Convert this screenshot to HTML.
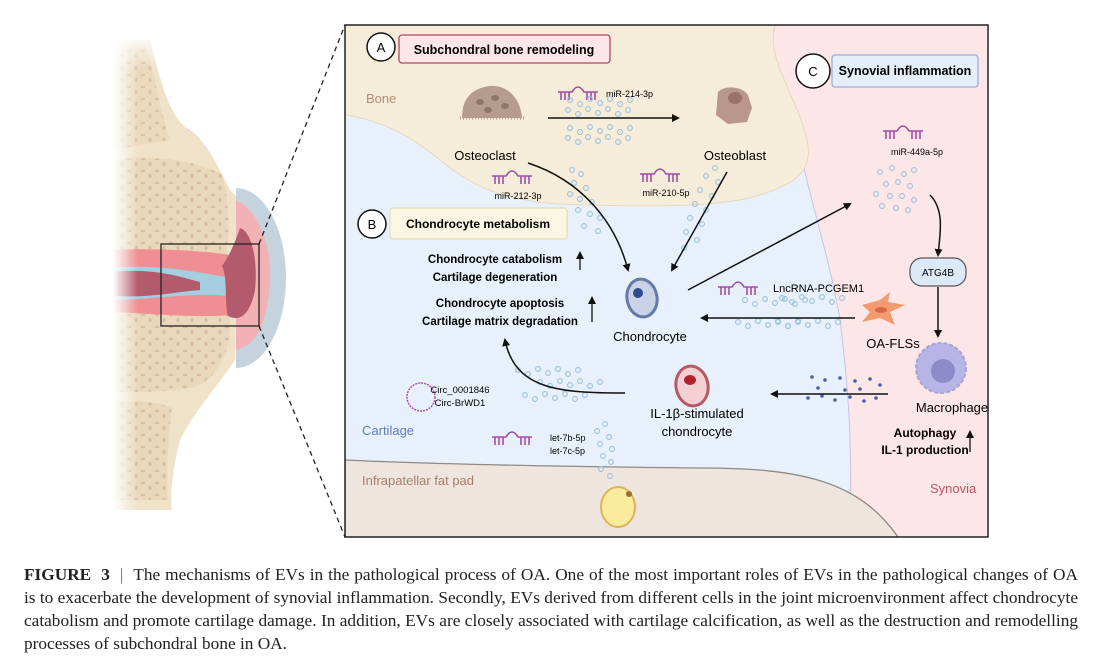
<!DOCTYPE html>
<html><head><meta charset="utf-8"><style>
html,body{margin:0;padding:0;background:#fff;}
body{width:1097px;height:663px;overflow:hidden;position:relative;font-family:"Liberation Sans",sans-serif;}
svg{position:absolute;left:0;top:0;}
.cap{position:absolute;left:24px;width:1054px;font-family:"Liberation Serif",serif;font-size:17.3px;color:#222;line-height:20px;white-space:nowrap;}
.j{text-align:justify;text-align-last:justify;}
</style></head><body>
<svg width="1097" height="570" viewBox="0 0 1097 570" xmlns="http://www.w3.org/2000/svg">
<defs>
<linearGradient id="fade" x1="0" x2="1" y1="0" y2="0">
<stop offset="0" stop-color="#fff" stop-opacity="1"/><stop offset="1" stop-color="#fff" stop-opacity="0"/></linearGradient>
<linearGradient id="fadev" x1="0" x2="0" y1="0" y2="1">
<stop offset="0" stop-color="#fff" stop-opacity="1"/><stop offset="1" stop-color="#fff" stop-opacity="0"/></linearGradient>
<pattern id="spong" width="14" height="12" patternUnits="userSpaceOnUse">
<rect width="14" height="12" fill="#ead8bd"/>
<ellipse cx="3" cy="3" rx="2.2" ry="1.4" fill="#d9bf9f"/><ellipse cx="10" cy="8" rx="1.6" ry="2.2" fill="#d9bf9f"/>
</pattern>
<marker id="ah" markerWidth="8" markerHeight="8" refX="6" refY="4" orient="auto" markerUnits="userSpaceOnUse"><path d="M0,0 L8,4 L0,8 Z" fill="#111"/></marker>
<g id="mir" fill="none" stroke="#a24da8" stroke-width="1.6">
<path d="M0,4 H14 Q20,-6 26,4 H40"/>
<path d="M3,4 v8 M7,4 v8 M11,4 v8 M29,4 v8 M33,4 v8 M37,4 v8"/>
</g>
<g id="row" fill="none" stroke="#9cc0dc" stroke-width="1.1">
<circle cx="0" cy="0" r="2.4"/><circle cx="10" cy="4" r="2.4"/><circle cx="20" cy="-1" r="2.4"/><circle cx="30" cy="3" r="2.4"/><circle cx="40" cy="-1" r="2.4"/><circle cx="50" cy="4" r="2.4"/><circle cx="60" cy="0" r="2.4"/>
</g>
</defs>

<!-- knee -->
<path d="M113,40 H150 C160,80 170,120 190,130 C205,140 215,160 230,190 L240,200 L235,360 C215,390 195,410 180,440 C172,470 170,500 172,510 H113 Z" fill="#efe2c8"/>
<path d="M113,45 H145 C155,75 160,110 170,140 L113,150 Z" fill="url(#spong)" opacity=".9"/>
<path d="M113,160 C150,155 200,160 222,175 C230,200 230,240 225,262 L113,262 Z" fill="url(#spong)"/>
<path d="M113,312 L230,312 C232,340 225,370 200,385 C180,392 150,392 113,392 Z" fill="url(#spong)"/>
<path d="M113,402 C140,400 160,402 172,408 C168,440 166,480 168,500 L113,500 Z" fill="url(#spong)"/>
<path d="M236,188 A50,90 0 0 1 236,368 Z" fill="#c5d3de"/>
<path d="M236,200 C260,210 272,250 270,280 C268,320 258,345 236,350 Z" fill="#f1b1b5"/>
<path d="M113,250 C150,248 200,250 230,255 L232,315 C200,318 150,314 113,312 Z" fill="#ef8f94"/>
<path d="M113,268 C150,264 190,270 230,278 L230,296 C190,292 150,300 113,300 Z" fill="#a3cfe0"/>
<path d="M113,272 C150,268 175,275 200,282 L200,290 C175,292 150,298 113,296 Z" fill="#b35a6d"/>
<path d="M240,228 C252,232 258,260 255,290 C250,315 240,322 228,316 C224,300 228,278 222,266 C230,255 236,240 240,228 Z" fill="#b35a6d"/>
<rect x="113" y="30" width="25" height="490" fill="url(#fade)"/>
<rect x="113" y="30" width="180" height="40" fill="url(#fadev)"/>
<rect x="161" y="244" width="98" height="82" fill="none" stroke="#222" stroke-width="1.3"/>
<line x1="259" y1="244" x2="345" y2="25" stroke="#222" stroke-width="1.3" stroke-dasharray="5,4"/>
<line x1="259" y1="326" x2="345" y2="537" stroke="#222" stroke-width="1.3" stroke-dasharray="5,4"/>

<!-- panel -->
<clipPath id="pc"><rect x="345" y="25" width="643" height="512"/></clipPath>
<g clip-path="url(#pc)">
<rect x="345" y="25" width="643" height="512" fill="#e8f1fb"/>
<path d="M775,25 C765,60 790,100 800,150 C810,200 830,260 840,320 C850,400 852,450 850,540 L990,540 L990,25 Z" fill="#fde6e7" stroke="#c9c3e0" stroke-width="1"/>
<path d="M345,25 H775 C765,60 800,100 808,145 C812,175 790,185 760,195 C720,208 640,207 560,204 C500,200 470,185 440,160 C410,135 380,120 345,115 Z" fill="#f5ecd9" stroke="#e6d8bf" stroke-width="1"/>
<path d="M345,460 C450,465 600,467 700,468 C800,468 860,480 900,540 L345,540 Z" fill="#efe5df" stroke="#8f8a86" stroke-width="1.3"/>
</g>
<rect x="345" y="25" width="643" height="512" fill="none" stroke="#222" stroke-width="1.5"/>

<!-- labels -->
<circle cx="381" cy="47" r="14" fill="#fff" stroke="#111" stroke-width="1.5"/><text x="381" y="52" font-size="13" text-anchor="middle">A</text>
<rect x="399" y="35" width="211" height="28" rx="3" fill="#fde6e7" stroke="#b14a5c" stroke-width="1.3"/>
<text x="504" y="54" font-size="12.5" font-weight="bold" text-anchor="middle">Subchondral bone remodeling</text>
<circle cx="813" cy="71" r="17" fill="#fff" stroke="#111" stroke-width="1.5"/><text x="813" y="76" font-size="13" text-anchor="middle">C</text>
<rect x="832" y="55" width="146" height="32" rx="3" fill="#e5effa" stroke="#9ab0d8" stroke-width="1.3"/>
<text x="905" y="75" font-size="12.5" font-weight="bold" text-anchor="middle">Synovial inflammation</text>
<circle cx="372" cy="224" r="14" fill="#fff" stroke="#111" stroke-width="1.5"/><text x="372" y="229" font-size="13" text-anchor="middle">B</text>
<rect x="390" y="208" width="177" height="31" rx="3" fill="#fbf6e3" stroke="#e4dcb8" stroke-width="1.3"/>
<text x="478" y="228" font-size="12" font-weight="bold" text-anchor="middle">Chondrocyte metabolism</text>

<text x="366" y="103" font-size="13" fill="#b08e72">Bone</text>
<text x="362" y="435" font-size="13" fill="#5b7fc0">Cartilage</text>
<text x="362" y="485" font-size="13" fill="#a87e6a">Infrapatellar fat pad</text>
<text x="930" y="493" font-size="13" fill="#c45268">Synovia</text>

<!-- cells -->
<path d="M462,118 C462,95 475,88 490,86 C505,85 520,95 522,118 Z" fill="#b59c8d"/>
<path d="M460,118 H524" stroke="#b59c8d" stroke-width="3" stroke-dasharray="1,2"/>
<ellipse cx="480" cy="102" rx="4" ry="3" fill="#8f756a"/><ellipse cx="495" cy="98" rx="4" ry="3" fill="#8f756a"/><ellipse cx="505" cy="106" rx="4" ry="3" fill="#8f756a"/><ellipse cx="488" cy="110" rx="4" ry="3" fill="#8f756a"/>
<text x="485" y="160" font-size="13" text-anchor="middle">Osteoclast</text>
<path d="M718,92 C725,85 742,86 748,95 L752,108 L747,122 L728,124 L716,115 Z" fill="#b9978a"/>
<ellipse cx="735" cy="98" rx="7" ry="6" fill="#9a7468"/>
<text x="735" y="160" font-size="13" text-anchor="middle">Osteoblast</text>

<ellipse cx="642" cy="298" rx="15" ry="19" transform="rotate(-10 642 298)" fill="#c9d2e6" stroke="#6779a8" stroke-width="3"/>
<ellipse cx="638" cy="293" rx="5" ry="5" fill="#2f4a8f"/>
<text x="650" y="341" font-size="13" text-anchor="middle">Chondrocyte</text>

<ellipse cx="692" cy="386" rx="16" ry="20" transform="rotate(-10 692 386)" fill="#f2d0d3" stroke="#b55a64" stroke-width="3"/>
<ellipse cx="690" cy="380" rx="6" ry="5" fill="#b0232e"/>
<text x="697" y="418" font-size="13" text-anchor="middle">IL-1β-stimulated</text>
<text x="697" y="436" font-size="13" text-anchor="middle">chondrocyte</text>

<path d="M862,305 L880,300 L890,292 L888,302 L905,305 L890,312 L895,325 L880,318 L862,322 L870,312 Z" fill="#f29b6e"/>
<ellipse cx="881" cy="310" rx="6" ry="3" fill="#d9694a"/>
<text x="893" y="348" font-size="13" text-anchor="middle">OA-FLSs</text>

<circle cx="941" cy="368" r="25" fill="#b6b5e6" stroke="#a4a3d8" stroke-width="2" stroke-dasharray="4,2"/>
<circle cx="943" cy="371" r="12" fill="#8d8bc8"/>
<text x="952" y="412" font-size="13" text-anchor="middle">Macrophage</text>
<text x="925" y="437" font-size="12" font-weight="bold" text-anchor="middle">Autophagy</text>
<text x="925" y="454" font-size="12" font-weight="bold" text-anchor="middle">IL-1 production</text>
<line x1="970" y1="452" x2="970" y2="432" stroke="#111" stroke-width="1.3" marker-end="url(#ah)"/>

<rect x="910" y="258" width="56" height="28" rx="12" fill="#dce9f7" stroke="#555" stroke-width="1.2"/>
<text x="938" y="276" font-size="10" text-anchor="middle">ATG4B</text>

<ellipse cx="618" cy="507" rx="17" ry="20" fill="#fbeb9c" stroke="#d9b65a" stroke-width="2"/>
<circle cx="629" cy="494" r="3" fill="#9a6e2f"/>

<circle cx="421" cy="397" r="14" fill="none" stroke="#b34fb8" stroke-width="1.5" stroke-dasharray="2,1"/>
<text x="460" y="393" font-size="9.5" text-anchor="middle">Circ_0001846</text>
<text x="460" y="406" font-size="9.5" text-anchor="middle">Circ-BrWD1</text>

<!-- outcome texts -->
<text x="495" y="263" font-size="11.5" font-weight="bold" text-anchor="middle">Chondrocyte catabolism</text>
<text x="495" y="281" font-size="11.5" font-weight="bold" text-anchor="middle">Cartilage degeneration</text>
<line x1="580" y1="270" x2="580" y2="253" stroke="#111" stroke-width="1.3" marker-end="url(#ah)"/>
<text x="500" y="307" font-size="11.5" font-weight="bold" text-anchor="middle">Chondrocyte apoptosis</text>
<text x="500" y="325" font-size="11.5" font-weight="bold" text-anchor="middle">Cartilage matrix degradation</text>
<line x1="592" y1="322" x2="592" y2="298" stroke="#111" stroke-width="1.3" marker-end="url(#ah)"/>

<!-- miRNAs -->
<use href="#mir" x="558" y="88"/><text x="606" y="97" font-size="9">miR-214-3p</text>
<use href="#mir" x="492" y="172"/><text x="518" y="199" font-size="9" text-anchor="middle">miR-212-3p</text>
<use href="#mir" x="640" y="170"/><text x="666" y="196" font-size="9" text-anchor="middle">miR-210-5p</text>
<use href="#mir" x="883" y="127"/><text x="917" y="155" font-size="9" text-anchor="middle">miR-449a-5p</text>
<use href="#mir" x="718" y="283"/><text x="773" y="292" font-size="11">LncRNA-PCGEM1</text>
<use href="#mir" x="492" y="433"/><text x="550" y="441" font-size="9">let-7b-5p</text><text x="550" y="454" font-size="9">let-7c-5p</text>

<!-- vesicles -->
<use href="#row" x="570" y="100"/><use href="#row" x="568" y="110"/>
<use href="#row" x="570" y="128"/><use href="#row" x="568" y="138"/>
<use href="#row" x="745" y="300" transform="translate(0,0)"/><use href="#row" x="782" y="298"/>
<use href="#row" x="738" y="322"/><use href="#row" x="778" y="322"/>
<use href="#row" x="518" y="370"/><use href="#row" x="540" y="382"/><use href="#row" x="525" y="395"/>
<g fill="none" stroke="#9cc0dc" stroke-width="1.1">
<circle cx="572" cy="170" r="2.4"/><circle cx="581" cy="174" r="2.4"/><circle cx="574" cy="183" r="2.4"/><circle cx="586" cy="188" r="2.4"/><circle cx="570" cy="194" r="2.4"/><circle cx="580" cy="199" r="2.4"/><circle cx="592" cy="202" r="2.4"/><circle cx="578" cy="210" r="2.4"/><circle cx="590" cy="214" r="2.4"/><circle cx="600" cy="218" r="2.4"/><circle cx="584" cy="226" r="2.4"/><circle cx="598" cy="231" r="2.4"/>
<circle cx="715" cy="168" r="2.4"/><circle cx="706" cy="176" r="2.4"/><circle cx="718" cy="182" r="2.4"/><circle cx="700" cy="190" r="2.4"/><circle cx="712" cy="196" r="2.4"/><circle cx="695" cy="204" r="2.4"/><circle cx="706" cy="210" r="2.4"/><circle cx="690" cy="218" r="2.4"/><circle cx="702" cy="224" r="2.4"/><circle cx="686" cy="232" r="2.4"/><circle cx="697" cy="240" r="2.4"/><circle cx="684" cy="248" r="2.4"/>
<circle cx="880" cy="172" r="2.4"/><circle cx="892" cy="168" r="2.4"/><circle cx="904" cy="174" r="2.4"/><circle cx="914" cy="170" r="2.4"/><circle cx="886" cy="184" r="2.4"/><circle cx="898" cy="182" r="2.4"/><circle cx="910" cy="186" r="2.4"/><circle cx="876" cy="194" r="2.4"/><circle cx="890" cy="196" r="2.4"/><circle cx="902" cy="196" r="2.4"/><circle cx="914" cy="200" r="2.4"/><circle cx="882" cy="206" r="2.4"/><circle cx="896" cy="208" r="2.4"/><circle cx="908" cy="210" r="2.4"/>
<circle cx="605" cy="424" r="2.4"/><circle cx="597" cy="431" r="2.4"/><circle cx="609" cy="437" r="2.4"/><circle cx="600" cy="444" r="2.4"/><circle cx="612" cy="449" r="2.4"/><circle cx="603" cy="456" r="2.4"/><circle cx="611" cy="462" r="2.4"/><circle cx="601" cy="469" r="2.4"/><circle cx="610" cy="476" r="2.4"/>
</g>
<g fill="#4d5fa3">
<circle cx="812" cy="377" r="1.8"/><circle cx="825" cy="380" r="1.8"/><circle cx="840" cy="378" r="1.8"/><circle cx="855" cy="381" r="1.8"/><circle cx="870" cy="379" r="1.8"/><circle cx="880" cy="385" r="1.8"/>
<circle cx="808" cy="398" r="1.8"/><circle cx="822" cy="396" r="1.8"/><circle cx="835" cy="400" r="1.8"/><circle cx="850" cy="397" r="1.8"/><circle cx="864" cy="401" r="1.8"/><circle cx="876" cy="398" r="1.8"/>
<circle cx="818" cy="388" r="1.8"/><circle cx="845" cy="390" r="1.8"/><circle cx="860" cy="389" r="1.8"/>
</g>

<!-- arrows -->
<g fill="none" stroke="#111" stroke-width="1.5" marker-end="url(#ah)">
<line x1="548" y1="118" x2="678" y2="118"/>
<path d="M528,163 C580,180 615,220 628,270"/>
<line x1="727" y1="172" x2="672" y2="270"/>
<line x1="688" y1="290" x2="850" y2="204"/>
<line x1="855" y1="318" x2="702" y2="318"/>
<path d="M930,195 C945,210 940,235 938,255"/>
<line x1="938" y1="287" x2="938" y2="336"/>
<line x1="888" y1="394" x2="772" y2="394"/>
<path d="M625,393 C560,393 515,390 505,340"/>
</g>
</svg>
<div class="cap j" style="top:565px"><b>FIGURE&nbsp;&nbsp;3</b>&nbsp;&nbsp;<span style="color:#666">|</span>&nbsp;&nbsp;The mechanisms of EVs in the pathological process of OA. One of the most important roles of EVs in the pathological changes of OA</div>
<div class="cap j" style="top:588px">is to exacerbate the development of synovial inflammation. Secondly, EVs derived from different cells in the joint microenvironment affect chondrocyte</div>
<div class="cap j" style="top:611px">catabolism and promote cartilage damage. In addition, EVs are closely associated with cartilage calcification, as well as the destruction and remodelling</div>
<div class="cap" style="top:634px">processes of subchondral bone in OA.</div>
</body></html>
